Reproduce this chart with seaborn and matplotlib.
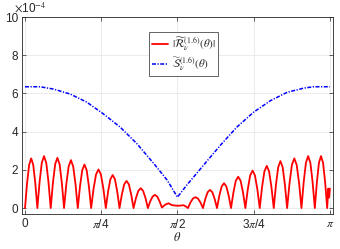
import numpy as np
import pandas as pd
import matplotlib
matplotlib.use("Agg")
import matplotlib.pyplot as plt
import seaborn as sns

# theta in units of pi, values in units of 1e-4
r_theta = [
    0.0000, 0.0068, 0.0135, 0.0203, 0.0270, 0.0338,
    0.0405, 0.0478, 0.0551, 0.0624, 0.0697, 0.0770,
    0.0843, 0.0916, 0.0989, 0.1062, 0.1135, 0.1208,
    0.1281, 0.1356, 0.1431, 0.1506, 0.1581, 0.1656,
    0.1731, 0.1804, 0.1877, 0.1950, 0.2023, 0.2096,
    0.2169, 0.2249, 0.2330, 0.2410, 0.2490, 0.2571,
    0.2651, 0.2726, 0.2801, 0.2876, 0.2950, 0.3025,
    0.3100, 0.3177, 0.3253, 0.3330, 0.3407, 0.3483,
    0.3560, 0.3639, 0.3717, 0.3796, 0.3874, 0.3953,
    0.4031, 0.4108, 0.4184, 0.4261, 0.4338, 0.4414,
    0.4491, 0.4600, 0.4710, 0.4800, 0.4870, 0.5040, 0.5200, 0.5280,
    0.5345, 0.5427, 0.5509, 0.5592, 0.5674, 0.5756,
    0.5838, 0.5915, 0.5991, 0.6068, 0.6145, 0.6221,
    0.6298, 0.6375, 0.6451, 0.6528, 0.6605, 0.6681,
    0.6758, 0.6837, 0.6915, 0.6994, 0.7072, 0.7151,
    0.7229, 0.7308, 0.7386, 0.7465, 0.7543, 0.7622,
    0.7700, 0.7777, 0.7853, 0.7930, 0.8007, 0.8083,
    0.8160, 0.8233, 0.8306, 0.8379, 0.8452, 0.8525,
    0.8598, 0.8677, 0.8755, 0.8834, 0.8912, 0.8991,
    0.9069, 0.9142, 0.9215, 0.9288, 0.9361, 0.9434,
    0.9507, 0.9575, 0.9642, 0.9710, 0.9777, 0.9845,
    0.9912, 0.9950, 0.9975, 1.0000,
]
r_value = [
    0.00, 1.30, 2.26, 2.60, 2.26, 1.30,
    0.00, 1.36, 2.37, 2.72, 2.37, 1.36,
    0.00, 1.32, 2.29, 2.63, 2.29, 1.32,
    0.00, 1.26, 2.18, 2.51, 2.18, 1.26,
    0.00, 1.14, 1.98, 2.28, 1.98, 1.14,
    0.00, 1.01, 1.76, 2.02, 1.76, 1.01,
    0.00, 0.87, 1.51, 1.73, 1.51, 0.87,
    0.00, 0.71, 1.24, 1.42, 1.24, 0.71,
    0.00, 0.52, 0.90, 1.04, 0.90, 0.52,
    0.00, 0.35, 0.60, 0.69, 0.60, 0.35,
    0.03, 0.18, 0.25, 0.17, 0.14, 0.12, 0.15, 0.08,
    0.00, 0.29, 0.50, 0.57, 0.50, 0.29,
    0.00, 0.48, 0.83, 0.95, 0.83, 0.48,
    0.00, 0.65, 1.13, 1.30, 1.13, 0.65,
    0.00, 0.82, 1.43, 1.64, 1.43, 0.82,
    0.00, 0.98, 1.71, 1.96, 1.71, 0.98,
    0.00, 1.11, 1.92, 2.21, 1.92, 1.11,
    0.00, 1.23, 2.14, 2.46, 2.14, 1.23,
    0.00, 1.30, 2.26, 2.60, 2.26, 1.30,
    0.00, 1.36, 2.37, 2.72, 2.37, 1.36,
    0.00, 1.36, 2.37, 2.72, 2.37, 1.36,
    0.00, 1.02, 0.55, 1.02,
]

s_theta = [0.0, 0.049, 0.093, 0.148, 0.203, 0.257, 0.312, 0.367, 0.422, 0.466, 0.5,
           0.531, 0.586, 0.641, 0.695, 0.750, 0.805, 0.860, 0.915, 0.947, 1.0]
s_value = [6.35, 6.35, 6.23, 5.97, 5.54, 4.93, 4.24, 3.37, 2.34, 1.47, 0.57,
           1.21, 2.25, 3.29, 4.24, 5.02, 5.62, 6.06, 6.28, 6.35, 6.35]

x_ticks = [0, 0.25, 0.5, 0.75, 1.0]
x_labels = ['0', r'$\pi$/4', r'$\pi$/2', r'3$\pi$/4', r'$\pi$']
y_ticks = [0, 2, 4, 6, 8, 10]

df_r = pd.DataFrame({'theta': np.array(r_theta) * np.pi, 'val': r_value})
df_s = pd.DataFrame({'theta': np.array(s_theta) * np.pi, 'val': s_value})

sns.set_theme(style='whitegrid')
plt.rcParams['font.family'] = ['Liberation Sans', 'DejaVu Sans']
plt.rcParams['mathtext.fontset'] = 'stix'

fig = plt.figure(figsize=(3.4, 2.49), dpi=100)
ax = fig.add_axes([0.0647, 0.1406, 0.9143, 0.7911])
ax.set_facecolor('white')

sns.lineplot(data=df_r, x='theta', y='val', ax=ax, color='#ff0000', linewidth=1.3,
             sort=False, estimator=None,
             label=r'$|\widetilde{\mathcal{R}}_\nu^{(1.6)}(\theta)|$')
sns.lineplot(data=df_s, x='theta', y='val', ax=ax, color='#0000ff', linewidth=1.1,
             sort=False, estimator=None,
             label=r'$\widetilde{\mathcal{S}}_\nu^{(1.6)}(\theta)$')
ax.lines[1].set_dashes([2.6, 1.0, 0.8, 1.0])

ax.set_xlim(-0.031, np.pi + 0.031)
ax.set_ylim(-0.31, 10)
ax.set_xticks(np.array(x_ticks) * np.pi)
ax.set_xticklabels(x_labels)
ax.set_yticks(y_ticks)
ax.set_xlabel(r'$\theta$', fontsize=9, color='#262626', labelpad=0)
ax.set_ylabel('')

ax.grid(True, color='#e8e8e8', linewidth=0.6)
for sp in ax.spines.values():
    sp.set_visible(True)
    sp.set_color('#262626')
    sp.set_linewidth(0.6)
ax.tick_params(direction='in', length=3, width=0.5, colors='#262626',
               labelsize=8.5, top=True, right=True, bottom=True, left=True, pad=3)

ax.text(-0.025, 1.01, r'$\times$10$^{-4}$', transform=ax.transAxes,
        fontsize=8.5, color='#262626', ha='left', va='bottom')

leg = ax.legend(loc='upper left', bbox_to_anchor=(0.408, 0.924), borderaxespad=0,
                fontsize=8, frameon=True, fancybox=False, handlelength=1.5,
                handletextpad=0.3, borderpad=0.25, labelspacing=0.25)
leg.get_frame().set_edgecolor('#262626')
leg.get_frame().set_linewidth(0.5)
leg.get_frame().set_facecolor('white')
leg.get_frame().set_alpha(1)

fig.savefig('out.png', dpi=100)
